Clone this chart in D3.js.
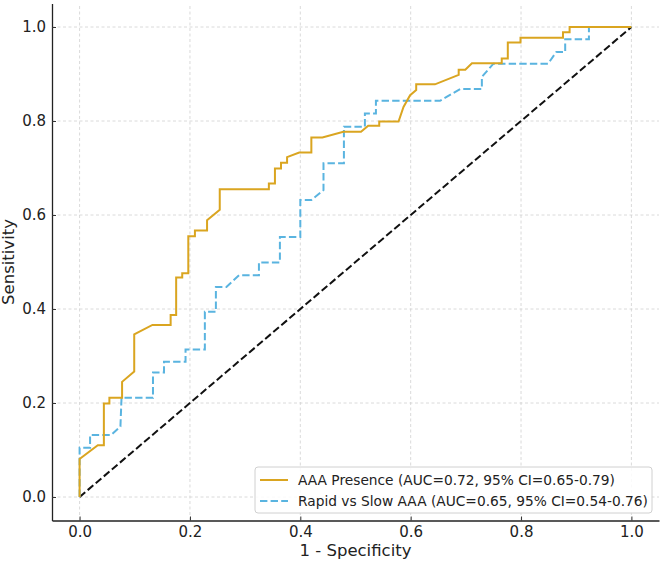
<!DOCTYPE html>
<html>
<head>
<meta charset="utf-8">
<script src="https://cdn.jsdelivr.net/npm/d3@7.9.0/dist/d3.min.js"></script>
<style>
  body { margin: 0; background: #fff; }
  svg { display: block; font-family: "DejaVu Sans", sans-serif; }
</style>
</head>
<body>
<svg id="chart" width="663" height="566"></svg>
<script>
// ROC points (1 - specificity, sensitivity)
const presenceFpr = [0, 0, 0.033, 0.044, 0.044, 0.054, 0.054, 0.077, 0.077, 0.099, 0.099, 0.132, 0.165, 0.165, 0.175, 0.175, 0.186, 0.186, 0.197, 0.197, 0.209, 0.209, 0.231, 0.231, 0.254, 0.254, 0.343, 0.343, 0.354, 0.354, 0.365, 0.365, 0.376, 0.376, 0.398, 0.420, 0.420, 0.440, 0.478, 0.510, 0.523, 0.543, 0.543, 0.578, 0.587, 0.599, 0.610, 0.610, 0.644, 0.687, 0.687, 0.699, 0.711, 0.765, 0.765, 0.776, 0.776, 0.799, 0.799, 0.876, 0.876, 0.888, 0.888, 1];
const presenceTpr = [0, 0.081, 0.11, 0.11, 0.199, 0.199, 0.211, 0.211, 0.245, 0.267, 0.346, 0.366, 0.366, 0.387, 0.387, 0.467, 0.467, 0.476, 0.476, 0.555, 0.555, 0.567, 0.567, 0.589, 0.611, 0.655, 0.655, 0.667, 0.667, 0.699, 0.699, 0.711, 0.711, 0.723, 0.733, 0.733, 0.765, 0.765, 0.777, 0.777, 0.790, 0.790, 0.799, 0.799, 0.830, 0.855, 0.866, 0.878, 0.878, 0.898, 0.909, 0.909, 0.923, 0.923, 0.933, 0.933, 0.967, 0.967, 0.977, 0.977, 0.989, 0.989, 1, 1];

const rapidFpr = [0, 0, 0.019, 0.019, 0.057, 0.074, 0.076, 0.133, 0.133, 0.153, 0.153, 0.192, 0.192, 0.227, 0.227, 0.247, 0.247, 0.266, 0.289, 0.325, 0.325, 0.363, 0.363, 0.400, 0.400, 0.420, 0.442, 0.442, 0.479, 0.479, 0.517, 0.517, 0.537, 0.537, 0.653, 0.690, 0.729, 0.729, 0.750, 0.849, 0.864, 0.880, 0.880, 0.923, 0.923, 1];
const rapidTpr = [0, 0.105, 0.105, 0.132, 0.132, 0.150, 0.211, 0.211, 0.265, 0.265, 0.288, 0.288, 0.314, 0.314, 0.394, 0.394, 0.447, 0.447, 0.472, 0.472, 0.499, 0.499, 0.553, 0.553, 0.632, 0.632, 0.653, 0.710, 0.710, 0.788, 0.788, 0.816, 0.816, 0.843, 0.843, 0.868, 0.868, 0.894, 0.922, 0.922, 0.947, 0.947, 0.974, 0.974, 1, 1];

const chanceLine = [0, 1];
const tickValues = [0, 0.2, 0.4, 0.6, 0.8, 1.0];
const seriesLabels = [
  'AAA Presence (AUC=0.72, 95% CI=0.65-0.79)',
  'Rapid vs Slow AAA (AUC=0.65, 95% CI=0.54-0.76)'
];

const GOLD = '#DAA520';
const BLUE = '#5AB4E0';

const svg = d3.select('#chart');

// matplotlib-style 5% padding around [0, 1]
const x = d3.scaleLinear().domain([-0.05, 1.05]).range([52, 659]);
const y = d3.scaleLinear().domain([-0.05, 1.05]).range([520.5, 3.5]);

// grid
const grid = svg.append('g').attr('stroke', '#d0d0d0').attr('stroke-width', 0.8).attr('stroke-dasharray', '3,2.5');
grid.selectAll('line.v').data(tickValues).enter().append('line')
  .attr('x1', d => x(d)).attr('x2', d => x(d))
  .attr('y1', y.range()[0]).attr('y2', y.range()[1]);
grid.selectAll('line.h').data(tickValues).enter().append('line')
  .attr('y1', d => y(d)).attr('y2', d => y(d))
  .attr('x1', x.range()[0]).attr('x2', x.range()[1]);

// axes with inward ticks
const xAxis = d3.axisBottom(x).tickValues(tickValues).tickFormat(d3.format('.1f')).tickSizeInner(-4).tickSizeOuter(0).tickPadding(6);
const yAxis = d3.axisLeft(y).tickValues(tickValues).tickFormat(d3.format('.1f')).tickSizeInner(-4).tickSizeOuter(0).tickPadding(6);

const gx = svg.append('g').attr('transform', `translate(0,${y.range()[0]})`).call(xAxis);
const gy = svg.append('g').attr('transform', `translate(${x.range()[0]},0)`).call(yAxis);
[gx, gy].forEach(g => {
  g.select('.domain').attr('stroke', '#222').attr('stroke-width', 1.3);
  g.selectAll('.tick line').attr('stroke', '#333').attr('stroke-width', 1);
  g.selectAll('.tick text').attr('fill', '#222').style('font-size', '15px').style('font-family', '"DejaVu Sans", sans-serif');
});

svg.append('text')
  .attr('x', (x.range()[0] + x.range()[1]) / 2).attr('y', 556)
  .attr('text-anchor', 'middle').attr('fill', '#222').style('font-size', '16.5px')
  .text('1 - Specificity');

svg.append('text')
  .attr('transform', `translate(13.5,${(y.range()[0] + y.range()[1]) / 2}) rotate(-90)`)
  .attr('text-anchor', 'middle').attr('fill', '#222').style('font-size', '16.5px')
  .text('Sensitivity');

// curves
const line = d3.line().x(d => x(d[0])).y(d => y(d[1]));
const presence = d3.zip(presenceFpr, presenceTpr);
const rapid = d3.zip(rapidFpr, rapidTpr);

svg.append('path').datum(d3.zip(chanceLine, chanceLine)).attr('d', line)
  .attr('fill', 'none').attr('stroke', '#111').attr('stroke-width', 2).attr('stroke-dasharray', '7.4,3.2');

svg.append('path').datum(rapid).attr('d', line)
  .attr('fill', 'none').attr('stroke', BLUE).attr('stroke-width', 2).attr('stroke-dasharray', '7.4,3.2');

svg.append('path').datum(presence).attr('d', line)
  .attr('fill', 'none').attr('stroke', GOLD).attr('stroke-width', 2);

// legend
const legend = svg.append('g');
legend.append('rect')
  .attr('x', 255).attr('y', 467).attr('width', 397).attr('height', 46)
  .attr('rx', 3).attr('fill', 'white').attr('fill-opacity', 0.85)
  .attr('stroke', '#d0d0d0').attr('stroke-width', 1);

const styles = [{ color: GOLD, dash: null }, { color: BLUE, dash: '7.4,3.2' }];
seriesLabels.forEach((label, i) => {
  const ly = 480 + i * 21;
  legend.append('line')
    .attr('x1', 260).attr('x2', 288).attr('y1', ly).attr('y2', ly)
    .attr('stroke', styles[i].color).attr('stroke-width', 2)
    .attr('stroke-dasharray', styles[i].dash);
  legend.append('text')
    .attr('x', 298).attr('y', ly + 5)
    .attr('fill', '#222').style('font-size', '13.75px')
    .text(label);
});
</script>
</body>
</html>
